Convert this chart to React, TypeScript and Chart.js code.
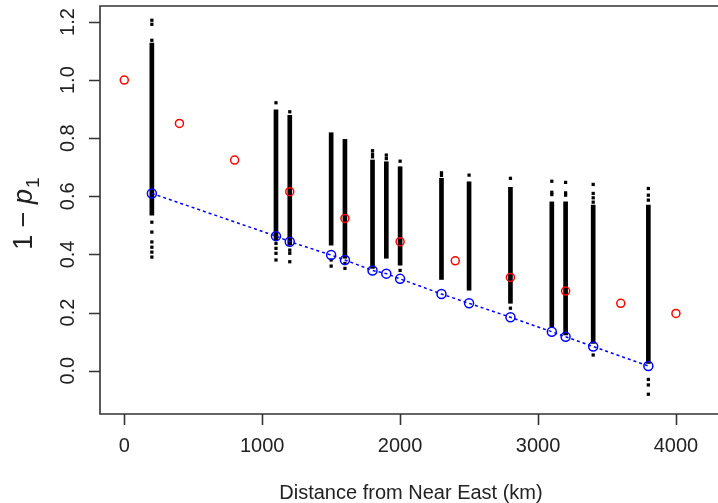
import React, { useEffect, useRef } from 'react';
import { Chart, registerables } from 'chart.js';

Chart.register(...registerables);

// Axis ticks
const xTicks = [0, 1000, 2000, 3000, 4000];
const xTickLabels = ['0', '1000', '2000', '3000', '4000'];
const yTicks = [0, 0.2, 0.4, 0.6, 0.8, 1.0, 1.2];
const yTickLabels = ['0.0', '0.2', '0.4', '0.6', '0.8', '1.0', '1.2'];

// Red circles (observed)
const redX = [0, 400, 800, 1200, 1600, 2000, 2400, 2800, 3200, 3600, 4000];
const redY = [1.0, 0.851, 0.725, 0.616, 0.524, 0.444, 0.378, 0.321, 0.274, 0.232, 0.197];

// Blue circles (fitted, joined by dotted line)
const blueX = [200, 1100, 1200, 1500, 1600, 1800, 1900, 2000, 2300, 2500, 2800, 3100, 3200, 3400, 3800];
const blueY = [0.610, 0.463, 0.444, 0.398, 0.381, 0.345, 0.334, 0.316, 0.264, 0.232, 0.184, 0.134, 0.117, 0.083, 0.016];

// Black vertical columns (dense part)
const barX = [200, 1100, 1200, 1500, 1600, 1800, 1900, 2000, 2300, 2500, 2800, 3100, 3200, 3400, 3800];
const barLow = [0.535, 0.449, 0.432, 0.432, 0.387, 0.352, 0.387, 0.363, 0.314, 0.277, 0.232, 0.151, 0.123, 0.094, 0.025];
const barHigh = [1.127, 0.898, 0.879, 0.819, 0.796, 0.725, 0.719, 0.702, 0.662, 0.650, 0.631, 0.581, 0.581, 0.570, 0.570];

// Isolated black dots at column ends
const dotX = [
  200, 200, 200, 200, 200, 200, 200, 200, 200,
  1100, 1100, 1100, 1100, 1100,
  1200, 1200, 1200, 1200,
  1500, 1500,
  1600, 1600,
  1800, 1800, 1800,
  1900, 1900,
  2000, 2000,
  2300, 2300,
  2500,
  2800, 2800,
  3100, 3100, 3100,
  3200, 3200, 3200,
  3400, 3400, 3400, 3400, 3400,
  3800, 3800, 3800, 3800, 3800, 3800,
];
const dotY = [
  1.206, 1.192, 1.137, 0.511, 0.477, 0.443, 0.425, 0.408, 0.391,
  0.922, 0.438, 0.421, 0.404, 0.381,
  0.891, 0.415, 0.404, 0.375,
  0.381, 0.360,
  0.369, 0.352,
  0.757, 0.745, 0.736,
  0.742, 0.730,
  0.721, 0.345,
  0.681, 0.672,
  0.673,
  0.662, 0.215,
  0.652, 0.614, 0.606,
  0.648, 0.612, 0.604,
  0.641, 0.610, 0.595, 0.580, 0.054,
  0.627, 0.604, 0.587, -0.030, -0.049, -0.081,
];

const xTitle = 'Distance from Near East (km)';
const FONT = '"Liberation Sans", Arial, Helvetica, sans-serif';

const rAxesPlugin = {
  id: 'rAxes',
  afterDraw(chart: any) {
    const ctx = chart.ctx as CanvasRenderingContext2D;
    const { left, top, right, bottom } = chart.chartArea;
    const xs = chart.scales.x;
    const ys = chart.scales.y;
    ctx.save();
    ctx.strokeStyle = '#333';
    ctx.lineWidth = 1.6;
    // box: top, left, bottom (right edge lies beyond the picture)
    ctx.beginPath();
    ctx.moveTo(right + 2, top);
    ctx.lineTo(left, top);
    ctx.lineTo(left, bottom);
    ctx.lineTo(right + 2, bottom);
    ctx.stroke();
    // x ticks
    ctx.beginPath();
    xTicks.forEach((v) => {
      const px = Math.round(xs.getPixelForValue(v)) + 0.5;
      ctx.moveTo(px, bottom);
      ctx.lineTo(px, bottom + 11);
    });
    // y ticks
    yTicks.forEach((v) => {
      const py = Math.round(ys.getPixelForValue(v)) + 0.5;
      ctx.moveTo(left, py);
      ctx.lineTo(left - 11, py);
    });
    ctx.stroke();

    ctx.fillStyle = '#222';
    ctx.font = `20px ${FONT}`;
    ctx.textAlign = 'center';
    ctx.textBaseline = 'middle';
    xTicks.forEach((v, i) => {
      ctx.fillText(xTickLabels[i], xs.getPixelForValue(v), 446);
    });
    yTicks.forEach((v, i) => {
      const py = ys.getPixelForValue(v);
      ctx.save();
      ctx.translate(68, py);
      ctx.rotate(-Math.PI / 2);
      ctx.fillText(yTickLabels[i], 0, 0);
      ctx.restore();
    });

    // x title
    ctx.textBaseline = 'alphabetic';
    ctx.fillText(xTitle, (left + right) / 2 + 2, 499);

    // y title: 1 − p_1
    const cy = (top + bottom) / 2 + 4;
    ctx.save();
    ctx.translate(32, cy);
    ctx.rotate(-Math.PI / 2);
    ctx.textAlign = 'left';
    ctx.textBaseline = 'alphabetic';
    const fMain = `27px ${FONT}`;
    const fIt = `italic 27px ${FONT}`;
    const fSub = `19px ${FONT}`;
    ctx.font = fMain;
    const part1 = '1 \u2212 ';
    const w1 = ctx.measureText(part1).width;
    ctx.font = fIt;
    const w2 = ctx.measureText('p').width;
    ctx.font = fSub;
    const w3 = ctx.measureText('1').width;
    const total = w1 + w2 + w3;
    let x0 = -total / 2;
    ctx.font = fMain;
    ctx.fillText(part1, x0, 0);
    x0 += w1;
    ctx.font = fIt;
    ctx.fillText('p', x0, 0);
    x0 += w2 + 1;
    ctx.font = fSub;
    ctx.fillText('1', x0, 7);
    ctx.restore();

    ctx.restore();
  },
};

export default function App() {
  const ref = useRef<HTMLCanvasElement | null>(null);
  useEffect(() => {
    if (!ref.current) return;
    const chart = new Chart(ref.current, {
      type: 'scatter',
      data: {
        datasets: [
          {
            type: 'line',
            data: redX.map((x, i) => ({ x, y: redY[i] })),
            showLine: false,
            pointStyle: 'circle',
            pointRadius: 4,
            pointBorderWidth: 1.5,
            pointBorderColor: '#ff0000',
            pointBackgroundColor: 'rgba(0,0,0,0)',
            borderColor: '#ff0000',
            order: 1,
          } as any,
          {
            type: 'line',
            data: blueX.map((x, i) => ({ x, y: blueY[i] })),
            showLine: true,
            borderColor: '#0000ff',
            borderWidth: 1.5,
            borderDash: [3, 3],
            pointStyle: 'circle',
            pointRadius: 4.5,
            pointBorderWidth: 1.5,
            pointBorderColor: '#0000ff',
            pointBackgroundColor: 'rgba(0,0,0,0)',
            tension: 0,
            fill: false,
            order: 2,
          } as any,
          {
            type: 'bar',
            data: barX.map((x, i) => ({ x, y: [barLow[i], barHigh[i]] })),
            backgroundColor: '#000',
            borderWidth: 0,
            barThickness: 4,
            order: 3,
          } as any,
          {
            type: 'scatter',
            data: dotX.map((x, i) => ({ x, y: dotY[i] })),
            pointStyle: 'rect',
            pointRadius: 2.3,
            pointBorderWidth: 0,
            pointBackgroundColor: '#000',
            order: 3,
          } as any,
        ],
      },
      options: {
        animation: false,
        responsive: false,
        maintainAspectRatio: false,
        devicePixelRatio: 1,
        layout: { autoPadding: false, padding: { left: 100, top: 6, right: 0, bottom: 89 } },
        plugins: { legend: { display: false }, tooltip: { enabled: false } },
        events: [],
        scales: {
          x: { type: 'linear', min: -176, max: 4305, display: false, offset: false },
          y: { type: 'linear', min: -0.149, max: 1.255, display: false },
        },
      } as any,
      plugins: [rAxesPlugin],
    });
    return () => chart.destroy();
  }, []);
  return (
    <div style={{ position: 'fixed', left: 0, top: 0, width: 718, height: 503, background: '#fff' }}>
      <canvas ref={ref} width={718} height={503} style={{ width: 718, height: 503, display: 'block' }} />
    </div>
  );
}
